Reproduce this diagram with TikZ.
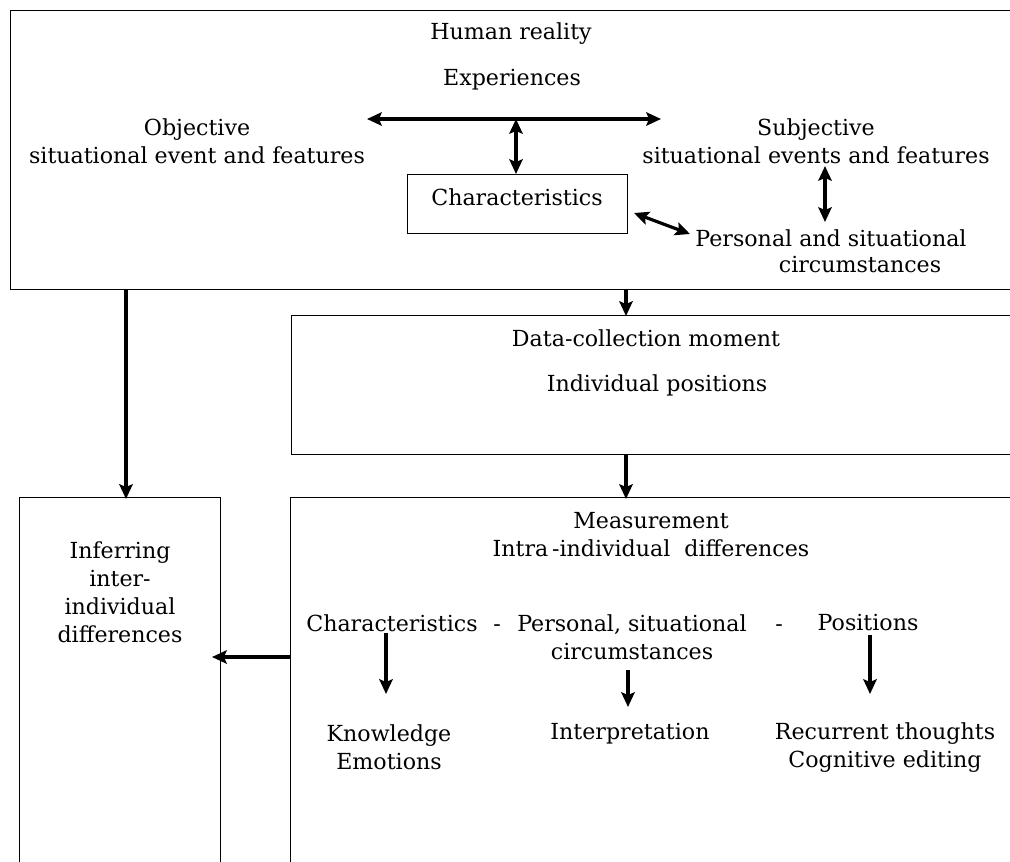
\documentclass[tikz,border=0pt]{standalone}
\usepackage{fontspec}
\setmainfont{DejaVu Serif}
\usetikzlibrary{arrows.meta}
\begin{document}
\begin{tikzpicture}[x=0.75pt,y=-0.75pt,
  txt/.style={inner sep=0pt,align=center,font=\fontsize{16.6}{21}\selectfont},
  box/.style={draw,line width=0.7pt,inner sep=0pt},
  tip/.tip={Stealth[length=11pt,width=10pt,inset=2pt]},
  arr/.style={line width=2.4pt,-tip},
  darr/.style={line width=2.4pt,tip-tip}]
\useasboundingbox (0,0) rectangle (1010,861);
\clip (0,0) rectangle (1010,861);
% boxes
\draw[box] (1030,10) -- (10,10) -- (10,289) -- (1030,289);
\draw[box] (1030,315) -- (291,315) -- (291,454) -- (1030,454);
\draw[box] (19,880) -- (19,497) -- (220,497) -- (220,880);
\draw[box] (290,880) -- (290,497) -- (1030,497);
\node[box,minimum width=165pt,minimum height=44.25pt,anchor=north west] (charbox) at (407,174) {};
% coordinates
\coordinate (topL) at (126,289);
\coordinate (infT) at (126,499);
\coordinate (topM) at (626,289);
\coordinate (dcT) at (626,316);
\coordinate (dcB) at (626,454);
\coordinate (msT) at (626,499);
\coordinate (msL) at (290,657);
\coordinate (infR) at (212,657);
\coordinate (hL) at (367,119);
\coordinate (hR) at (661,119);
\coordinate (hM) at (516,119);
\coordinate (subB) at (825,166);
\coordinate (perT) at (825,222);
\coordinate (charR) at (634,213);
\coordinate (perL) at (690,234);
\coordinate (a1s) at (386,633);
\coordinate (a1e) at (386,694);
\coordinate (a2s) at (628,670);
\coordinate (a2e) at (628,707);
\coordinate (a3s) at (870,635);
\coordinate (a3e) at (870,694);
% top texts
\node[txt] (human) at (511,34) {Human reality};
\node[txt] (exp) at (512,80) {Experiences};
\node[txt] (obj) at (197,141) {Objective\\situational event and features};
\node[txt] (subj) at (816,141) {Subjective\\situational events and features};
\node[txt] (chartxt) at (517,197) {Characteristics};
\node[txt] (pers1) at (831,238) {Personal and situational};
\node[txt] (pers2) at (860,265) {circumstances};
% data collection
\node[txt] (dc1) at (646,338) {Data-collection moment};
\node[txt] (dc2) at (657,385) {Individual positions};
% inferring
\node[txt] (inf) at (120,592.5) {Inferring\\inter-\\individual\\differences};
% measurement
\node[txt] (meas) at (651,534.5) {Measurement\\Intra\,-individual\ \ differences};
\node[txt] (mchar) at (392,623) {Characteristics};
\node[txt] (dash1) at (497,623) {\vphantom{Ch}-};
\node[txt] (mpers) at (632,637) {Personal, situational\\circumstances};
\node[txt] (dash2) at (779,623) {\vphantom{Ch}-};
\node[txt] (mpos) at (868,623) {Positions};
\node[txt] (know) at (389,747.5) {Knowledge\\Emotions};
\node[txt] (interp) at (630,734) {Interpretation};
\node[txt] (recur) at (885,747.5) {Recurrent thoughts\\Cognitive editing};
% arrows
\draw[darr] (hL) -- (hR);
\draw[darr] (hM) -- (hM |- charbox.north);
\draw[darr] (subB) -- (perT);
\draw[darr] (charR) -- (perL);
\draw[arr] (topL) -- (infT);
\draw[arr] (topM) -- (dcT);
\draw[arr] (dcB) -- (msT);
\draw[arr] (msL) -- (infR);
\draw[arr] (a1s) -- (a1e);
\draw[arr] (a2s) -- (a2e);
\draw[arr] (a3s) -- (a3e);
\end{tikzpicture}
\end{document}
